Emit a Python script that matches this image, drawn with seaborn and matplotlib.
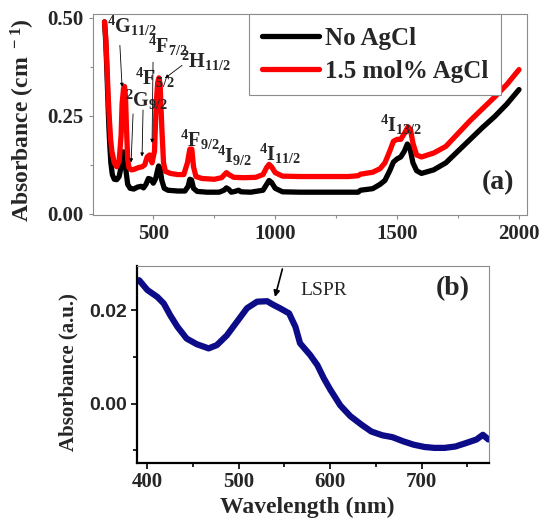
import numpy as np
import pandas as pd
import matplotlib
matplotlib.use("Agg")
import matplotlib.pyplot as plt
from matplotlib.ticker import MultipleLocator
import seaborn as sns

# ---------------- data: panel (a) ----------------
wl_red = [300, 305, 310, 315, 320, 325, 330, 340, 350, 360, 368, 372, 378, 382, 386, 390, 395,
          400, 410, 420, 440, 455, 465, 475, 485, 495, 505, 512, 518, 523, 528, 535, 542, 550,
          570, 600, 625, 640, 650, 658, 665, 675, 700, 750, 780, 800, 810, 830, 870, 920, 950,
          965, 975, 985, 1000, 1030, 1100, 1200, 1300, 1340, 1350, 1400, 1430, 1450, 1470, 1485,
          1500, 1515, 1530, 1545, 1555, 1565, 1580, 1600, 1650, 1700, 1750, 1800, 1850, 1900,
          1950, 2000]
abs_red = [0.49, 0.45, 0.38, 0.30, 0.24, 0.19, 0.16, 0.13, 0.12, 0.135, 0.20, 0.28, 0.32, 0.325,
           0.30, 0.22, 0.14, 0.118, 0.112, 0.113, 0.118, 0.12, 0.125, 0.145, 0.15, 0.13, 0.16,
           0.28, 0.335, 0.347, 0.33, 0.22, 0.13, 0.108, 0.103, 0.10, 0.10, 0.13, 0.165, 0.165,
           0.12, 0.095, 0.09, 0.088, 0.092, 0.105, 0.10, 0.093, 0.092, 0.093, 0.10, 0.118, 0.126,
           0.12, 0.105, 0.096, 0.095, 0.095, 0.095, 0.097, 0.101, 0.106, 0.115, 0.13, 0.16, 0.185,
           0.19, 0.19, 0.205, 0.222, 0.215, 0.18, 0.15, 0.145, 0.155, 0.172, 0.205, 0.238, 0.268,
           0.298, 0.33, 0.368]

wl_black = [300, 305, 310, 315, 318, 322, 326, 332, 340, 350, 360, 368, 374, 378, 383, 388, 395,
            405, 420, 435, 450, 460, 470, 480, 490, 500, 510, 517, 522, 528, 535, 545, 560, 600,
            630, 643, 650, 657, 665, 680, 720, 770, 790, 800, 810, 820, 835, 850, 860, 900, 950,
            965, 975, 985, 1000, 1030, 1100, 1200, 1340, 1350, 1400, 1430, 1450, 1470, 1485, 1500,
            1515, 1530, 1542, 1552, 1565, 1580, 1600, 1650, 1700, 1750, 1800, 1850, 1900, 1950,
            2000]
abs_black = [0.49, 0.44, 0.36, 0.27, 0.22, 0.17, 0.13, 0.10, 0.088, 0.087, 0.095, 0.12, 0.15,
             0.158, 0.15, 0.11, 0.075, 0.065, 0.063, 0.068, 0.07, 0.066, 0.075, 0.09, 0.088,
             0.078, 0.09, 0.11, 0.122, 0.115, 0.085, 0.065, 0.06, 0.058, 0.058, 0.07, 0.088,
             0.086, 0.065, 0.057, 0.055, 0.055, 0.06, 0.066, 0.062, 0.055, 0.057, 0.06, 0.056,
             0.055, 0.06, 0.075, 0.085, 0.08, 0.065, 0.056, 0.055, 0.055, 0.055, 0.06, 0.064,
             0.075, 0.085, 0.11, 0.132, 0.14, 0.145, 0.16, 0.178, 0.17, 0.13, 0.11, 0.103, 0.112,
             0.13, 0.16, 0.19, 0.22, 0.248, 0.28, 0.317]

series_names = ["No AgCl", "1.5 mol% AgCl"]

# ---------------- data: panel (b) ----------------
wl_b = [391, 400, 411, 418, 425, 433, 443, 454, 467, 476, 487, 498, 509, 520, 531, 538, 545,
        555, 562, 567, 578, 586, 593, 600, 611, 622, 634, 645, 657, 668, 680, 691, 703, 714,
        725, 737, 748, 760, 767, 773]
abs_b = [0.0264, 0.0243, 0.0228, 0.0214, 0.0189, 0.0164, 0.0139, 0.0127, 0.0118, 0.0125,
         0.0146, 0.0175, 0.0204, 0.0218, 0.0219, 0.0211, 0.0204, 0.0193, 0.0164, 0.0129,
         0.0104, 0.0082, 0.0054, 0.0030, -0.0004, -0.0027, -0.0045, -0.0060, -0.0068, -0.0072,
         -0.0081, -0.0088, -0.0093, -0.0095, -0.0095, -0.0092, -0.0085, -0.0077, -0.0067,
         -0.0077]

# ---------------- style ----------------
sns.set_style("white")
SERIF = ["Liberation Serif", "DejaVu Serif"]
SANS = ["Liberation Sans", "DejaVu Sans"]
plt.rcParams["font.family"] = SERIF
plt.rcParams["mathtext.default"] = "regular"
plt.rcParams["lines.solid_capstyle"] = "round"
plt.rcParams["lines.solid_joinstyle"] = "round"

GRAY = "#8c8c8c"
fig = plt.figure(figsize=(5.45, 5.25), dpi=100)
ax1 = fig.add_axes([0.1712, 0.5914, 0.7963, 0.3819])
ax2 = fig.add_axes([0.2519, 0.1175, 0.6459, 0.3764])

# ---------------- panel (a) ----------------
df_black = pd.DataFrame({"wl": wl_black, "a": abs_black})
df_red = pd.DataFrame({"wl": wl_red, "a": abs_red})
sns.lineplot(data=df_black, x="wl", y="a", ax=ax1, color="black", lw=3.8,
             sort=False, estimator=None, label=series_names[0])
sns.lineplot(data=df_red, x="wl", y="a", ax=ax1, color="#ff0000", lw=3.8,
             sort=False, estimator=None, label=series_names[1])

ax1.set_xlim(254, 2034)
ax1.set_ylim(-0.002, 0.51)
ax1.set_xticks([500, 1000, 1500, 2000])
ax1.xaxis.set_minor_locator(MultipleLocator(250))
ax1.set_yticks([0.0, 0.25, 0.5])
ax1.set_yticklabels(["0.00", "0.25", "0.50"])
ax1.yaxis.set_minor_locator(MultipleLocator(0.125))
for s in ax1.spines.values():
    s.set_color(GRAY)
    s.set_linewidth(0.8)
ax1.tick_params(which="both", direction="out", color=GRAY, width=0.8,
                bottom=True, left=True)
ax1.tick_params(which="major", length=3, pad=4, labelsize=15)
ax1.tick_params(which="minor", length=2.5)
for lab in ax1.get_xticklabels() + ax1.get_yticklabels():
    lab.set_fontweight("bold")
ax1.set_xlabel("")
ax1.set_ylabel("Absorbance (cm$^{\\ -1}$)", fontsize=17, fontweight="bold")
ax1.yaxis.set_label_coords(-0.13, 0.47)

leg = ax1.legend(loc="upper left", bbox_to_anchor=(0.3588, 1.0), borderaxespad=0,
                 handlelength=2.3, handletextpad=0.25, borderpad=0.5,
                 labelspacing=0.4, fancybox=False, framealpha=1, edgecolor=GRAY,
                 prop={"family": SERIF, "weight": "bold", "size": 18})
leg.get_frame().set_linewidth(0.8)
for ln in leg.get_lines():
    ln.set_linewidth(3.8)
    ln.set_solid_capstyle("round")

lab_kw = dict(fontsize=14.5, fontweight="bold", ha="left", va="baseline")
ax1.text(310, 0.461, "$^4$G$_{11/2}$", **lab_kw)
ax1.text(382, 0.272, "$^2$G$_{9/2}$", **lab_kw)
ax1.text(427, 0.330, "$^4$F$_{5/2}$", **lab_kw)
ax1.text(478, 0.41, "$^4$F$_{7/2}$", **lab_kw)
ax1.text(612, 0.372, "$^2$H$_{11/2}$", **lab_kw)
ax1.text(610, 0.171, "$^4$F$_{9/2}$", **lab_kw)
ax1.text(761, 0.131, "$^4$I$_{9/2}$", **lab_kw)
ax1.text(934, 0.136, "$^4$I$_{11/2}$", **lab_kw)
ax1.text(1430, 0.209, "$^4$I$_{13/2}$", **lab_kw)

arr = dict(arrowstyle="-|>", lw=0.6, color="black", mutation_scale=5, shrinkA=0, shrinkB=0)
for (x0, y0, x1, y1) in [(363, 0.43, 372, 0.324), (417, 0.255, 409, 0.131),
                         (458, 0.265, 454, 0.146), (499, 0.387, 495, 0.181),
                         (618, 0.379, 548, 0.346)]:
    ax1.annotate("", xy=(x1, y1), xytext=(x0, y0), arrowprops=arr)

ax1.text(1912, 0.08, "(a)", fontsize=20, fontweight="bold", ha="center", va="center")

# ---------------- panel (b) ----------------
df_b = pd.DataFrame({"wl": wl_b, "a": abs_b})
sns.lineplot(data=df_b, x="wl", y="a", ax=ax2, color="#0c0c88", lw=4.5,
             sort=False, estimator=None, legend=False)
ax2.set_xlim(389, 774)
ax2.set_ylim(-0.0128, 0.0295)
ax2.set_xticks([400, 500, 600, 700])
ax2.xaxis.set_minor_locator(MultipleLocator(50))
ax2.set_yticks([0.0, 0.02])
ax2.set_yticklabels(["0.00", "0.02"])
ax2.yaxis.set_minor_locator(MultipleLocator(0.01))
for side in ["top", "right"]:
    ax2.spines[side].set_color(GRAY)
    ax2.spines[side].set_linewidth(0.8)
for side in ["left", "bottom"]:
    ax2.spines[side].set_color("black")
    ax2.spines[side].set_linewidth(1.6)
ax2.tick_params(which="both", direction="out", color="black", width=1.2,
                bottom=True, left=True)
ax2.tick_params(which="major", length=4, pad=2.5)
ax2.tick_params(which="minor", length=3)
ax2.tick_params(axis="y", pad=3.5)
for lab in ax2.get_xticklabels():
    lab.set_fontweight("bold")
    lab.set_fontsize(15)
for lab in ax2.get_yticklabels():
    lab.set_fontweight("bold")
    lab.set_fontsize(14)
    lab.set_family(SANS)
ax2.set_xlabel("Wavelength (nm)", fontsize=17, fontweight="bold")
ax2.xaxis.set_label_coords(0.4835, -0.17)
ax2.set_ylabel("Absorbance (a.u.)", fontsize=15, fontweight="bold")
ax2.yaxis.set_label_coords(-0.168, 0.462)

ax2.annotate("", xy=(539.6, 0.0228), xytext=(547.7, 0.0288),
             arrowprops=dict(arrowstyle="-|>", lw=1.2, color="black", mutation_scale=9,
                             shrinkA=0, shrinkB=0))
ax2.text(567.5, 0.0241, "LSPR", fontsize=14, ha="left", va="center")
ax2.text(734, 0.0247, "(b)", fontsize=20, fontweight="bold", ha="center", va="center")

fig.savefig("out.png", dpi=100)
